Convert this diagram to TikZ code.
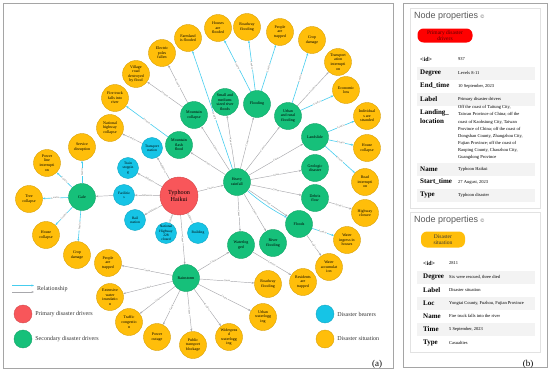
\documentclass[tikz,border=0pt]{standalone}
\usepackage{fontspec}
\setmainfont{Liberation Serif}
\newfontfamily\uisans{Liberation Sans}
\usepackage{tikz}
\usetikzlibrary{arrows.meta, shapes, positioning, backgrounds}

\definecolor{drvred}{RGB}{248,86,90}
\definecolor{drvgreen}{RGB}{22,192,122}
\definecolor{bearblue}{RGB}{22,196,230}
\definecolor{situyellow}{RGB}{255,190,10}
\definecolor{relcyan}{RGB}{70,205,238}
\definecolor{relgray}{RGB}{168,168,172}
\definecolor{framegray}{RGB}{165,165,165}
\definecolor{rowgray}{RGB}{243,243,243}
\definecolor{titlegray}{RGB}{90,90,90}
\definecolor{cardgray}{RGB}{226,226,226}
\definecolor{pilltext}{RGB}{95,0,0}

\newcommand{\gnodefont}{\fontsize{4}{4.6}\selectfont}
\newcommand{\relfont}{\fontsize{2.6}{3}\selectfont}

\begin{document}
\begin{tikzpicture}[x=1pt, y=-1pt,
    every node/.style={circle, inner sep=0pt, align=center, font=\gnodefont},
    primary/.style={fill=drvred, draw=drvred!85!black, line width=0.4pt, minimum size=38pt, font=\fontsize{6.2}{7.2}\selectfont},
    secondary/.style={fill=drvgreen, draw=drvgreen!85!black, line width=0.4pt, minimum size=27pt},
    bearer/.style={fill=bearblue, draw=bearblue!85!black, line width=0.4pt, minimum size=21pt, font=\fontsize{3.6}{4.2}\selectfont},
    situation/.style={fill=situyellow, draw=situyellow!85!black, line width=0.4pt, minimum size=27pt},
    gray rel/.style={-{Stealth[length=2.6pt,width=2pt]}, relgray, line width=0.45pt},
    cyan rel/.style={-{Stealth[length=2.6pt,width=2pt]}, relcyan, line width=0.6pt},
    rel label/.style={draw=none, rectangle, fill=white, inner sep=0.3pt, sloped, font=\relfont, text=black!60},
    legend text/.style={rectangle, anchor=west, font=\fontsize{6}{7}\selectfont, text=black!80},
    prop title/.style={rectangle, anchor=west, font=\uisans\fontsize{9}{10}\selectfont, text=titlegray},
    pill/.style={rectangle, rounded corners=6pt, minimum height=14pt, font=\fontsize{5.5}{6}\selectfont},
    key text/.style={rectangle, anchor=west, align=left, font=\bfseries\fontsize{7}{9}\selectfont},
    val text/.style={rectangle, anchor=west, align=left, font=\fontsize{4.5}{7.1}\selectfont},
  ]
  \useasboundingbox (0,0) rectangle (550,372);

  % frames of (a) and (b)
  \draw[framegray, line width=0.8pt] (3,3) rectangle (393,368);
  \draw[framegray, line width=0.8pt] (403,3) rectangle (547,367);

  % primary disaster driver
  \node[primary] (typhoon) at (179,196) {Typhoon\\Haikui};

  % secondary disaster drivers
  \node[secondary] (heavy) at (237,182) {Heavy\\rainfall};
  \node[secondary] (gale) at (82,197) {Gale};
  \node[secondary] (rainstorm) at (186,278) {Rainstorm};
  \node[secondary] (mflash) at (179,145) {Mountain\\flash\\flood};
  \node[secondary] (mcollapse) at (194,115) {Mountain\\collapse};
  \node[secondary] (smallriver) at (225,102) {Small and\\medium-\\sized river\\floods};
  \node[secondary] (flooding) at (257,104) {Flooding};
  \node[secondary] (urbanrural) at (288,116) {Urban\\and rural\\flooding};
  \node[secondary] (landslide) at (315,137) {Landslide};
  \node[secondary] (geologic) at (315,168) {Geologic\\disaster};
  \node[secondary] (debris) at (315,198) {Debris\\flow};
  \node[secondary] (floods) at (299,224) {Floods};
  \node[secondary] (waterlogged) at (241,245) {Waterlog\\ged};
  \node[secondary] (riverflood) at (273,243) {River\\flooding};

  % disaster bearers
  \node[bearer] (tstation) at (152,148) {Transport\\station};
  \node[bearer] (train) at (128,168) {Train\\stoppin\\g};
  \node[bearer] (facil) at (124,195) {Facilitie\\s};
  \node[bearer] (rail) at (135,220) {Rail\\station};
  \node[bearer] (nhclosed) at (166,233) {National\\Highway\\228\\closed};
  \node[bearer] (building) at (198,233) {Building};

  % disaster situations
  \node[situation] (farmland) at (188,38) {Farmland\\is flooded};
  \node[situation] (housesfl) at (218,28) {Houses\\are\\flooded};
  \node[situation] (roadwayT) at (247,27) {Roadway\\flooding};
  \node[situation] (peopleT) at (280,32) {People\\are\\trapped};
  \node[situation] (cropT) at (312,40) {Crop\\damage};
  \node[situation] (transint) at (338,62) {Transport\\ation\\interrupti\\on};
  \node[situation] (econ) at (346,90) {Economic\\loss};
  \node[situation] (stranded) at (367,116) {Individual\\s are\\stranded};
  \node[situation] (housecolR) at (367,148) {House\\collapse};
  \node[situation] (roadint) at (365,182) {Road\\interrupti\\on};
  \node[situation] (hwclose) at (365,213) {Highway\\closure};
  \node[situation] (waterin) at (347,240) {Water\\ingress in\\houses};
  \node[situation] (wateracc) at (329,267) {Water\\accumulat\\ion};
  \node[situation] (residents) at (303,282) {Residents\\are\\trapped};
  \node[situation] (roadwayB) at (268,284) {Roadway\\flooding};
  \node[situation] (urbanwl) at (263,317) {Urban\\waterlogg\\ing};
  \node[situation] (widewl) at (229,337) {Widesprea\\d\\waterlogg\\ing};
  \node[situation] (pubtrans) at (193,345) {Public\\transport\\blockage};
  \node[situation] (outage) at (157,337) {Power\\outage};
  \node[situation] (traffic) at (129,322) {Traffic\\congestio\\n};
  \node[situation] (extwater) at (110,297) {Extensive\\water\\inundatio\\n};
  \node[situation] (peopleB) at (108,263) {People\\are\\trapped};
  \node[situation] (cropL) at (77,255) {Crop\\damage};
  \node[situation] (housecolL) at (46,235) {House\\collapse};
  \node[situation] (tree) at (29,199) {Tree\\collapse};
  \node[situation] (powerline) at (47,163) {Power\\line\\interrupti\\on};
  \node[situation] (service) at (82,147) {Service\\disruption};
  \node[situation] (nhcollapse) at (110,128) {National\\highway\\collapse};
  \node[situation] (firetruck) at (115,98) {Fire truck\\falls into\\river};
  \node[situation] (village) at (136,74) {Village\\road\\destroyed\\by flood};
  \node[situation] (poles) at (162,53) {Electric\\poles\\fallen};

  \begin{scope}[on background layer]
    % typhoon
    \draw[gray rel] (typhoon) to node[rel label] {Cause} (heavy);
    \draw[gray rel] (typhoon) to node[rel label] {Cause} (rainstorm);
    \draw[gray rel] (typhoon) to node[rel label] {Influence} (facil);
    \draw[gray rel] (facil) to (gale);
    \draw[gray rel] (typhoon) to node[rel label] {Influence} (tstation);
    \draw[gray rel] (typhoon) to node[rel label] {Influence} (train);
    \draw[gray rel] (typhoon) to node[rel label] {Influence} (rail);
    \draw[gray rel] (typhoon) to node[rel label] {Influence} (nhclosed);
    \draw[gray rel] (typhoon) to node[rel label] {Influence} (building);
    % heavy rainfall
    \draw[gray rel] (heavy) to node[rel label] {Cause} (mflash);
    \draw[gray rel] (heavy) to node[rel label] {Cause} (mcollapse);
    \draw[gray rel] (heavy) to node[rel label] {Cause} (smallriver);
    \draw[gray rel] (heavy) to node[rel label] {Cause} (flooding);
    \draw[gray rel] (heavy) to node[rel label] {Cause} (urbanrural);
    \draw[gray rel] (heavy) to node[rel label] {Cause} (landslide);
    \draw[gray rel] (heavy) to node[rel label] {Cause} (geologic);
    \draw[gray rel] (heavy) to node[rel label] {Cause} (debris);
    \draw[gray rel] (heavy) to node[rel label] {Cause} (floods);
    \draw[cyan rel] (heavy) to[bend right=6] (floods);
    \draw[gray rel] (heavy) to node[rel label] {Cause} (waterlogged);
    \draw[gray rel] (heavy) to node[rel label] {Cause} (riverflood);
    \draw[cyan rel] (heavy) to node[rel label, pos=0.45] {Lead to} (farmland);
    % rainstorm
    \draw[gray rel] (rainstorm) to node[rel label] {Cause} (waterlogged);
    \draw[gray rel] (rainstorm) to node[rel label] {Cause} (roadwayB);
    \draw[gray rel] (rainstorm) to node[rel label] {Cause} (urbanwl);
    \draw[gray rel] (rainstorm) to node[rel label] {Lead to} (widewl);
    \draw[gray rel] (rainstorm) to node[rel label] {Cause} (pubtrans);
    \draw[gray rel] (rainstorm) to node[rel label] {Cause} (outage);
    \draw[gray rel] (rainstorm) to node[rel label] {Cause} (traffic);
    \draw[gray rel] (rainstorm) to node[rel label] {Cause} (extwater);
    \draw[gray rel] (rainstorm) to node[rel label] {Cause} (peopleB);
    % gale
    \draw[cyan rel] (gale) to node[rel label] {Lead to} (service);
    \draw[cyan rel] (gale) to node[rel label] {Lead to} (powerline);
    \draw[cyan rel] (gale) to node[rel label] {Lead to} (tree);
    \draw[cyan rel] (gale) to node[rel label] {Lead to} (housecolL);
    \draw[cyan rel] (gale) to node[rel label] {Lead to} (cropL);
    % mountain hazards
    \draw[gray rel] (mcollapse) to node[rel label] {Lead to} (poles);
    \draw[gray rel] (mcollapse) to node[rel label] {Lead to} (village);
    \draw[cyan rel] (mflash) to node[rel label] {Lead to} (firetruck);
    \draw[gray rel] (tstation) to node[rel label] {Lead to} (nhcollapse);
    % floods
    \draw[cyan rel] (flooding) to node[rel label] {Lead to} (housesfl);
    \draw[cyan rel] (flooding) to node[rel label] {Lead to} (roadwayT);
    \draw[cyan rel] (flooding) to node[rel label] {Lead to} (peopleT);
    \draw[cyan rel] (urbanrural) to node[rel label] {Lead to} (cropT);
    \draw[gray rel] (urbanrural) to node[rel label] {Lead to} (transint);
    \draw[cyan rel] (urbanrural) to node[rel label] {Lead to} (econ);
    \draw[cyan rel] (landslide) to node[rel label] {Lead to} (stranded);
    \draw[cyan rel] (landslide) to node[rel label] {Lead to} (housecolR);
    \draw[cyan rel] (landslide) to node[rel label] {Lead to} (roadint);
    \draw[gray rel] (debris) to node[rel label] {Lead to} (hwclose);
    \draw[cyan rel] (floods) to node[rel label] {Lead to} (waterin);
    \draw[gray rel] (floods) to node[rel label] {Lead to} (wateracc);
    \draw[gray rel] (waterlogged) to node[rel label] {Lead to} (residents);
  \end{scope}

  % legend
  \coordinate (relA1) at (12,285.5);
  \coordinate (relA2) at (34,285.5);
  \coordinate (relB1) at (12,292);
  \coordinate (relB2) at (34,292);
  \draw[cyan rel] (relA1) -- (relA2);
  \draw[gray rel] (relB1) -- (relB2);
  \node[legend text] (reltext) at (37,289.5) {Relationship};
  \node[primary, minimum size=18pt] (legred) at (23,314) {};
  \node[legend text, right=3pt of legred] (legredtext) {Primary disaster drivers};
  \node[secondary, minimum size=18pt] (leggreen) at (23,339) {};
  \node[legend text, right=3pt of leggreen] (leggreentext) {Secondary disaster drivers};
  \node[bearer, minimum size=18pt] (legblue) at (325,314) {};
  \node[legend text, right=3pt of legblue] (legbluetext) {Disaster bearers};
  \node[situation, minimum size=18pt] (legyellow) at (325,339) {};
  \node[legend text, right=3pt of legyellow] (legyellowtext) {Disaster situation};
  \node[rectangle, font=\fontsize{9}{10}\selectfont] (tagA) at (377,364) {(a)};

  % node properties: primary driver
  \draw[cardgray, fill=white, line width=0.5pt] (410,8) rectangle (540,208);
  \node[prop title] (title1) at (414,16) {Node properties {\fontsize{5}{5}\selectfont ©}};
  \node[pill, fill=red, minimum width=55pt, text=pilltext] (pill1) at (445,35.5) {Primary disaster\\drivers};
  \foreach \yy in {73,99,169,195}
    \fill[rowgray] (417,\yy-6.5) rectangle (535,\yy+6.5);
  \node[key text, font=\bfseries\fontsize{6}{7}\selectfont] (k1id) at (420,59) {<id>};
  \node[val text] (v1id) at (458,59) {937};
  \node[key text] (k1deg) at (420,73) {Degree};
  \node[val text] (v1deg) at (458,73) {Levels 8-11};
  \node[key text] (k1end) at (420,86) {End\_time};
  \node[val text] (v1end) at (458,86) {10 September, 2023};
  \node[key text] (k1lab) at (420,99) {Label};
  \node[val text] (v1lab) at (458,99) {Primary disaster drivers};
  \node[key text] (k1land) at (420,117) {Landing\_\\location};
  \node[val text, anchor=north west] (v1land) at (458,105.5) {Off the coast of Taitung City,\\Taiwan Province of China; off the\\coast of Kaohsiung City, Taiwan\\Province of China; off the coast of\\Dongshan County, Zhangzhou City,\\Fujian Province; off the coast of\\Raoping County, Chaozhou City,\\Guangdong Province};
  \node[key text] (k1name) at (420,169) {Name};
  \node[val text] (v1name) at (458,169) {Typhoon Haikui};
  \node[key text] (k1start) at (420,182) {Start\_time};
  \node[val text] (v1start) at (458,182) {27 August, 2023};
  \node[key text] (k1type) at (420,195) {Type};
  \node[val text] (v1type) at (458,195) {Typhoon disaster};

  % node properties: disaster situation
  \draw[cardgray, fill=white, line width=0.5pt] (410,212) rectangle (540,352);
  \node[prop title] (title2) at (414,220) {Node properties {\fontsize{5}{5}\selectfont ©}};
  \node[pill, fill=situyellow, minimum width=44pt, minimum height=16pt, text=black!80] (pill2) at (443,239.5) {Disaster\\situation};
  \foreach \yy in {277,303,329}
    \fill[rowgray] (417,\yy-6.5) rectangle (535,\yy+6.5);
  \node[key text, font=\bfseries\fontsize{6}{7}\selectfont] (k2id) at (423,263) {<id>};
  \node[val text] (v2id) at (449,263) {2811};
  \node[key text] (k2deg) at (423,277) {Degree};
  \node[val text] (v2deg) at (449,277) {Six were rescued, three died};
  \node[key text] (k2lab) at (423,290) {Label};
  \node[val text] (v2lab) at (449,290) {Disaster situation};
  \node[key text] (k2loc) at (423,303) {Loc};
  \node[val text] (v2loc) at (449,303) {Yongtai County, Fuzhou, Fujian Province};
  \node[key text] (k2name) at (423,316) {Name};
  \node[val text] (v2name) at (449,316) {Fire truck falls into the river};
  \node[key text] (k2time) at (423,329) {Time};
  \node[val text] (v2time) at (449,329) {5 September, 2023};
  \node[key text] (k2type) at (423,343) {Type};
  \node[val text] (v2type) at (449,343) {Casualties};
  \node[rectangle, font=\fontsize{9}{10}\selectfont] (tagB) at (528,364) {(b)};
\end{tikzpicture}
\end{document}
